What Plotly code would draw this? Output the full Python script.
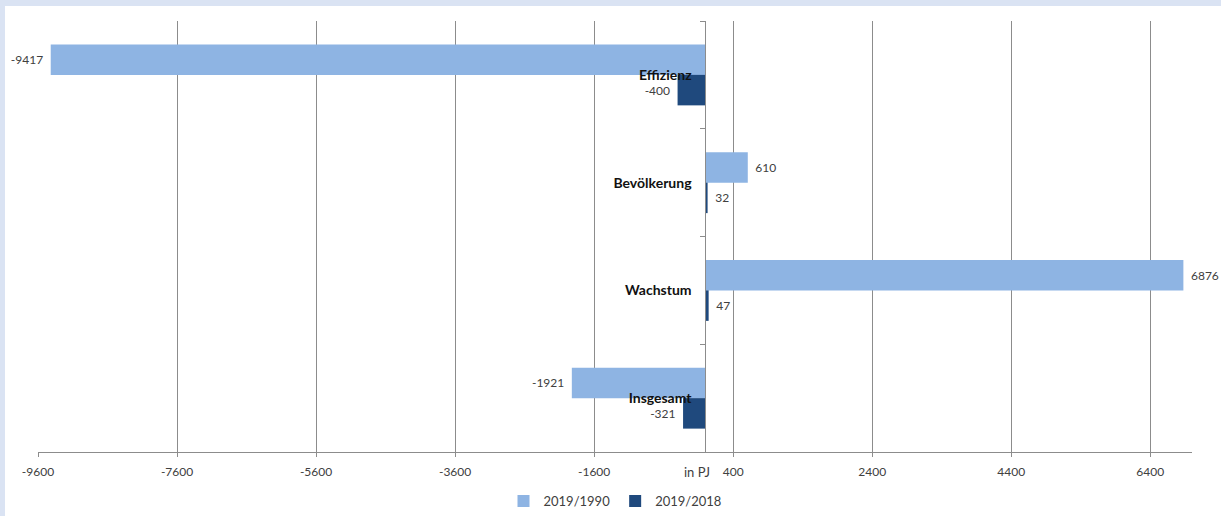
import plotly.graph_objects as go

categories = ["Effizienz", "Bevölkerung", "Wachstum", "Insgesamt"]
series_1990 = [-9417, 610, 6876, -1921]
series_2018 = [-400, 32, 47, -321]
x_ticks = [-9600, -7600, -5600, -3600, -1600, 400, 2400, 4400, 6400]
x_tick_labels = [str(v) for v in x_ticks]

LIGHT = "#8EB4E3"
DARK = "#1F497D"
GRID = "#8C8C8C"
FRAME = "#DAE3F3"
FONT = "Lato"

W, H = 1221, 516
ML, MR, MT, MB = 38, 29, 21, 64
PW = W - ML - MR
PH = H - MT - MB
XMIN, XMAX = -9600, 7000

PAD = "\u00a0\u2009"


def labels(vals):
    out = []
    for v in vals:
        if v < 0:
            out.append(f"{v}{PAD}")
        else:
            out.append(f"{PAD}{v}")
    return out


fig = go.Figure()
fig.add_trace(go.Bar(
    y=categories, x=series_1990, orientation="h", name="2019/1990",
    marker=dict(color=LIGHT, line=dict(width=0)),
    text=labels(series_1990), textposition="outside", constraintext="none",
    cliponaxis=False, textfont=dict(size=12, color="#404040", family=FONT),
))
fig.add_trace(go.Bar(
    y=categories, x=series_2018, orientation="h", name="2019/2018",
    marker=dict(color=DARK, line=dict(width=0)),
    text=labels(series_2018), textposition="outside", constraintext="none",
    cliponaxis=False, textfont=dict(size=12, color="#404040", family=FONT),
))

zero_pos = (0 - XMIN) / (XMAX - XMIN)

fig.update_layout(
    width=W, height=H,
    margin=dict(l=ML, r=MR, t=MT, b=MB, pad=0, autoexpand=False),
    paper_bgcolor="white",
    plot_bgcolor="white",
    barmode="group",
    bargap=0.434,
    bargroupgap=0,
    font=dict(family=FONT, size=12, color="#404040"),
    showlegend=True,
    legend=dict(orientation="h", x=0.5, xanchor="center", y=(PH - (501 - MT)) / PH,
                yanchor="middle", font=dict(size=13, color="#404040"),
                bgcolor="rgba(0,0,0,0)", traceorder="normal"),
    xaxis=dict(range=[XMIN, XMAX], tickvals=x_ticks, ticktext=x_tick_labels,
               showgrid=True, gridcolor=GRID, gridwidth=1, zeroline=False,
               showline=True, linecolor=GRID, linewidth=1,
               ticks="outside", ticklen=4, tickcolor=GRID, ticklabelstandoff=5,
               tickfont=dict(size=12, color="#404040")),
    yaxis=dict(autorange="reversed", anchor="free", position=zero_pos,
               showgrid=False, zeroline=False, showline=True, linecolor=GRID,
               linewidth=1, ticks="outside", tickson="boundaries", ticklen=5,
               tickcolor=GRID, ticklabelstandoff=11,
               tickfont=dict(size=14, color="#111111", family=FONT, weight="bold")),
    shapes=[
        dict(type="rect", xref="paper", yref="paper",
             x0=-ML / PW, x1=(W - ML) / PW,
             y0=(PH + MT - 6) / PH, y1=(PH + MT) / PH,
             fillcolor=FRAME, line=dict(width=0), layer="below"),
        dict(type="rect", xref="paper", yref="paper",
             x0=-ML / PW, x1=(5 - ML) / PW,
             y0=-MB / PH, y1=(PH + MT) / PH,
             fillcolor=FRAME, line=dict(width=0), layer="below"),
    ],
    annotations=[dict(text="in PJ", xref="paper", yref="paper",
                      x=(697 - ML) / PW, y=(PH - (472 - MT)) / PH,
                      xanchor="center", yanchor="middle", showarrow=False,
                      font=dict(size=13, color="#404040"))],
)

fig.write_html("out.html")
